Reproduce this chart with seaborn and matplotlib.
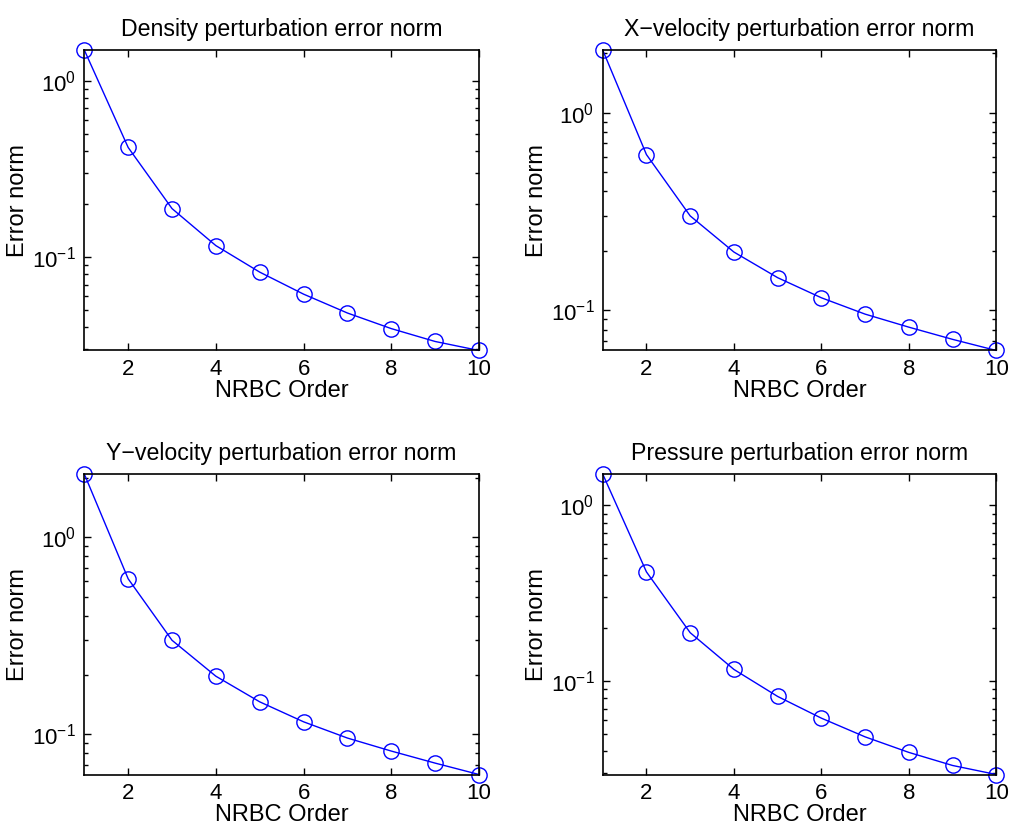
import numpy as np
import pandas as pd
import matplotlib
matplotlib.use("Agg")
import matplotlib.pyplot as plt
import seaborn as sns
from matplotlib.ticker import LogLocator, LogFormatterSciNotation, NullFormatter

orders = [1, 2, 3, 4, 5, 6, 7, 8, 9, 10]
density_err = [1.50, 0.420, 0.189, 0.1165, 0.0824, 0.0618, 0.0483, 0.0394, 0.0333, 0.0296]
xvel_err = [2.08, 0.615, 0.301, 0.1975, 0.1465, 0.1159, 0.0958, 0.0823, 0.0714, 0.0627]
yvel_err = [2.09, 0.615, 0.300, 0.1972, 0.1462, 0.1158, 0.0958, 0.0823, 0.0715, 0.0626]
pressure_err = [1.51, 0.419, 0.189, 0.1168, 0.0820, 0.0617, 0.0483, 0.0394, 0.0332, 0.0295]

titles = ["Density perturbation error norm", "X\u2212velocity perturbation error norm",
          "Y\u2212velocity perturbation error norm", "Pressure perturbation error norm"]
series = [density_err, xvel_err, yvel_err, pressure_err]
xticks = [2, 4, 6, 8, 10]

sns.set_style("ticks")
plt.rcParams["font.family"] = ["Liberation Sans", "DejaVu Sans"]
plt.rcParams["mathtext.fontset"] = "custom"
plt.rcParams["mathtext.rm"] = "Liberation Sans"
plt.rcParams["mathtext.it"] = "Liberation Sans"
plt.rcParams["text.color"] = "black"
plt.rcParams["axes.labelcolor"] = "black"
plt.rcParams["xtick.color"] = "black"
plt.rcParams["ytick.color"] = "black"

fig = plt.figure(figsize=(10.09, 8.25), dpi=100)
W, H = 1009, 825
boxes = [(84.3, 50, 479, 350.5), (602.7, 50, 996.3, 350.5),
         (84.3, 474, 479, 774.5), (602.7, 474, 996.3, 774.5)]

for (l, t, r, b), title, vals in zip(boxes, titles, series):
    ax = fig.add_axes([l / W, 1 - b / H, (r - l) / W, (b - t) / H])
    df = pd.DataFrame({"order": orders, "err": vals})
    sns.lineplot(data=df, x="order", y="err", ax=ax, color="#0000ff", lw=1.0,
                 marker="o", markersize=11, markerfacecolor="none",
                 markeredgecolor="#0000ff", markeredgewidth=1.0, clip_on=False)
    ax.set_yscale("log")
    ax.set_xlim(1, 10)
    ax.set_ylim(min(vals), max(vals))
    ax.set_xticks(xticks)
    ax.set_xticklabels([str(v) for v in xticks])
    ax.yaxis.set_major_locator(LogLocator(base=10))
    ax.yaxis.set_major_formatter(LogFormatterSciNotation())
    ax.yaxis.set_minor_locator(LogLocator(base=10, subs=np.arange(2, 10)))
    ax.yaxis.set_minor_formatter(NullFormatter())
    ax.tick_params(which="both", direction="in", top=True, right=True,
                   labelsize=16, colors="black", width=1.0)
    ax.tick_params(which="major", length=5, pad=6)
    ax.tick_params(which="minor", length=3)
    for s in ax.spines.values():
        s.set_visible(True)
        s.set_linewidth(1.2)
        s.set_color("black")
    ax.set_title(title, fontsize=16.7, pad=10, color="black")
    ax.set_xlabel("NRBC Order", fontsize=17, labelpad=0, color="black")
    ax.set_ylabel("Error norm", fontsize=17, labelpad=2, color="black")

fig.savefig("out.png", dpi=100)
